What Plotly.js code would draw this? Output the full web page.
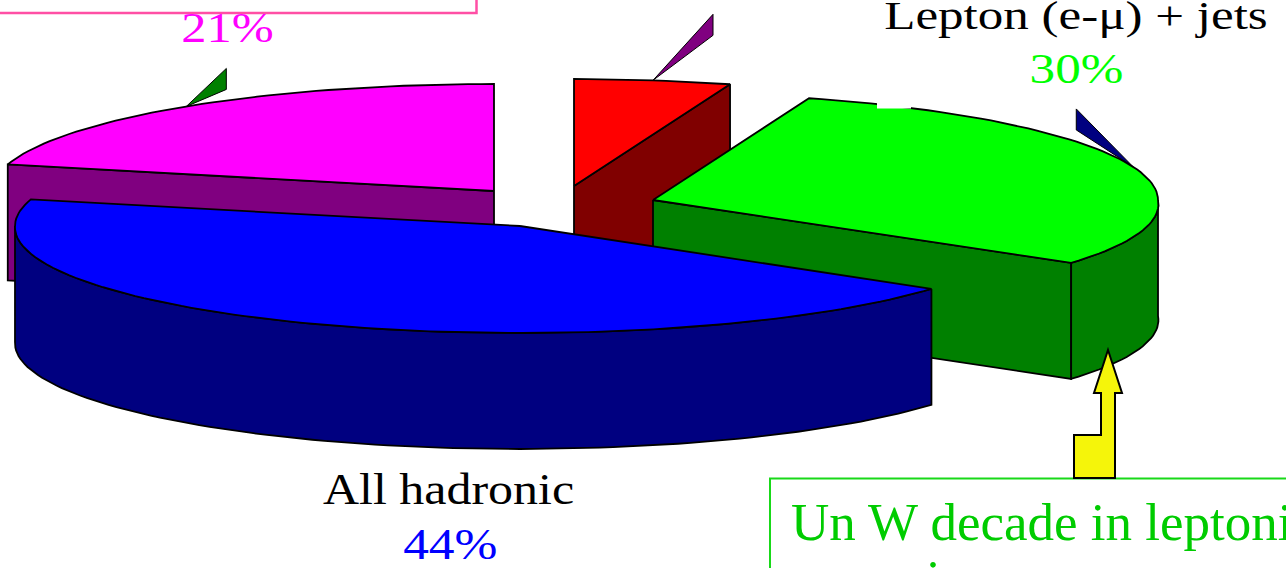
<!DOCTYPE html>
<html>
<head>
<meta charset="utf-8">
<script src="https://cdn.plot.ly/plotly-3.0.1.min.js"></script>
<style>html,body{margin:0;padding:0;background:#fff;overflow:hidden}#chart{width:1286px;height:568px}</style>
</head>
<body>
<div id="chart"></div>
<script>
// Branching fractions of the top-pair decay channels, in percent.
var channels = ['Dilepton', 'Tau channel', 'Lepton (e-μ) + jets', 'All hadronic'];
var shares = [21, 5, 30, 44];

// Colours of each wedge: top face, side wall.
var topColors = ['#ff00ff', '#ff0000', '#00ff00', '#0000ff'];
var wallColors = ['#800080', '#800000', '#008000', '#000080'];

// Where each exploded wedge has its apex in the drawing.
var apexX = [494, 574, 653, 520];
var apexY = [191, 186, 200, 226];

// Pie projection: flattened disc, front half of each wedge slightly wider.
var radiusX = [502, 505, 505, 505];
var frontWiden = [0, 0, 0.04, 0.012];
var RY = 107, DEPTH = 116;

function rim(i, deg, drop) {
  var a = deg * Math.PI / 180;
  var widen = 1 + frontWiden[i] * Math.max(0, -Math.cos(a));
  return [apexX[i] + radiusX[i] * Math.sin(a) * widen, apexY[i] - RY * Math.cos(a) + (drop || 0)];
}
function arc(i, from, to, drop) {
  var pts = [], n = Math.max(2, Math.ceil(Math.abs(to - from) / 1.5));
  for (var k = 0; k <= n; k++) pts.push(rim(i, from + (to - from) * k / n, drop));
  return pts;
}
function face(pts, fill) {
  var closed = pts.concat([pts[0]]);
  return {
    x: closed.map(function (p) { return p[0]; }),
    y: closed.map(function (p) { return p[1]; }),
    mode: 'lines', fill: 'toself', fillcolor: fill,
    line: { color: '#000', width: 1.8 }, hoverinfo: 'skip', showlegend: false
  };
}

// Wedge angles run clockwise from the back of the pie; the first wedge ends at 0.
var starts = [], ends = [], running = -shares[0] * 3.6;
shares.forEach(function (s) { starts.push(running); running += s * 3.6; ends.push(running); });

function apex(i, drop) { return [apexX[i], apexY[i] + (drop || 0)]; }
function radialWall(i, deg) {
  var a = rim(i, deg), b = rim(i, deg, DEPTH);
  return face([apex(i), a, b, apex(i, DEPTH)], wallColors[i]);
}
function outerWall(i, from, to) {
  return face(arc(i, from, to).concat(arc(i, to, from, DEPTH)), wallColors[i]);
}
function topFace(i) {
  return face([apex(i)].concat(arc(i, starts[i], ends[i])), topColors[i]);
}

var traces = [
  radialWall(0, starts[0]), topFace(0),
  radialWall(1, ends[1]), topFace(1),
  radialWall(2, ends[2]), outerWall(2, 90, ends[2]), topFace(2),
  outerWall(3, starts[3], 270), topFace(3)
];

// Small pointer flags rising from the middle of the rim of three wedges.
function flag(i, dx, topDy, lowDy, color) {
  var tip = rim(i, (starts[i] + ends[i]) / 2);
  return {
    type: 'path', layer: 'below', xref: 'x', yref: 'y', fillcolor: color,
    line: { color: '#000', width: 1 },
    path: 'M' + tip[0] + ',' + tip[1] + ' L' + (tip[0] + dx) + ',' + (tip[1] + topDy) +
          ' L' + (tip[0] + dx) + ',' + (tip[1] + lowDy) + ' Z'
  };
}

var shapes = [
  flag(0, 40, -38, -17, '#008000'),
  flag(1, 60, -66, -45, '#800080'),
  flag(2, -57, -58, -37, '#000080'),
  // gap in the rim of the green wedge
  { type: 'rect', layer: 'above', xref: 'x', yref: 'y', x0: 877, x1: 911, y0: 95, y1: 108.5,
    fillcolor: '#fff', line: { width: 0 } },
  // note boxes, both running off the page
  { type: 'rect', layer: 'above', xref: 'x', yref: 'y', x0: -10, x1: 476.5, y0: -10, y1: 13,
    fillcolor: 'rgba(0,0,0,0)', line: { color: '#ff4fa5', width: 2.5 } },
  { type: 'rect', layer: 'above', xref: 'x', yref: 'y', x0: 770, x1: 1300, y0: 478.5, y1: 590,
    fillcolor: 'rgba(0,0,0,0)', line: { color: '#19d919', width: 2 } },
  // yellow arrow from the note box up to the green wedge
  { type: 'path', layer: 'above', xref: 'x', yref: 'y', fillcolor: '#f5f50a',
    line: { color: '#000', width: 2 },
    path: 'M1108,350 L1122,393 L1115,393 L1115,478 L1074,478 L1074,435 L1101,435 L1101,393 L1094,393 Z' }
];

var SERIF = '"Liberation Serif", "Times New Roman", serif';
function label(text, x, y, color, size, anchor, shift) {
  return {
    text: text, x: x, y: y, yshift: shift || 0, xref: 'x', yref: 'y', showarrow: false,
    xanchor: anchor || 'center', yanchor: 'middle', align: 'left',
    font: { family: SERIF, size: size, color: color }
  };
}

var annotations = [
  label(channels[2], 1076, 15.4, '#000000', 41),
  label(shares[2] + '%', 1076, 69, '#00ff00', 42),
  label(shares[0] + '%', 227, 27.5, '#ff00ff', 42),
  label(channels[3], 448, 489.3, '#000000', 44),
  label(shares[3] + '%', 450, 544.3, '#0000ff', 44),
  label('Un W decade in leptoni', 789, 521.5, '#00cc00', 53, 'left'),
  // second line of the note, almost entirely below the page edge
  label('i', 933, 566, '#00cc00', 53, 'center', -13)
];

// Horizontal widening of the lettering, same order as the annotations.
var letterWiden = [1.245, 1.22, 1.2, 1.136, 1.17, 1, 1];

Plotly.newPlot('chart', traces, {
  width: 1286, height: 568,
  margin: { l: 0, r: 0, t: 0, b: 0 },
  paper_bgcolor: '#fff', plot_bgcolor: '#fff',
  xaxis: { range: [0, 1286], visible: false, fixedrange: true },
  yaxis: { range: [568, 0], visible: false, fixedrange: true },
  shapes: shapes, annotations: annotations, showlegend: false
}, { displayModeBar: false, staticPlot: true }).then(function (gd) {
  gd.querySelectorAll('text.annotation-text').forEach(function (el, k) {
    var s = letterWiden[k];
    if (!s || s === 1) return;
    var box = el.getBBox(), cx = box.x + box.width / 2;
    el.setAttribute('transform', 'translate(' + cx + ',0) scale(' + s + ',1) translate(' + (-cx) + ',0)');
  });
});
</script>
</body>
</html>
